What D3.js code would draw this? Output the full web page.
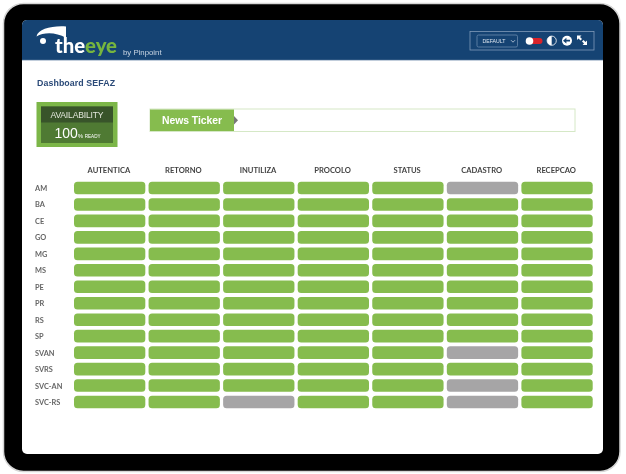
<!DOCTYPE html>
<meta charset="utf-8">
<style>
html, body { margin: 0; padding: 0; background: #fff; }
svg { display: block; filter: blur(0.4px); }
text { font-family: "Liberation Sans", Arial, sans-serif; }
.tick line, .domain { display: none; }
</style>
<body>
<script src="https://cdnjs.cloudflare.com/ajax/libs/d3/7.8.5/d3.min.js" charset="utf-8"></script>
<script>

var services = ["AUTENTICA", "RETORNO", "INUTILIZA", "PROCOLO", "STATUS", "CADASTRO", "RECEPCAO"];
var states = ["AM", "BA", "CE", "GO", "MG", "MS", "PE", "PR", "RS", "SP", "SVAN", "SVRS", "SVC-AN", "SVC-RS"];
// 1 = up (green), 0 = unavailable (grey). One row per state, one value per service
var AM = [1, 1, 1, 1, 1, 0, 1];
var BA = [1, 1, 1, 1, 1, 1, 1];
var CE = [1, 1, 1, 1, 1, 1, 1];
var GO = [1, 1, 1, 1, 1, 1, 1];
var MG = [1, 1, 1, 1, 1, 1, 1];
var MS = [1, 1, 1, 1, 1, 1, 1];
var PE = [1, 1, 1, 1, 1, 1, 1];
var PR = [1, 1, 1, 1, 1, 1, 1];
var RS = [1, 1, 1, 1, 1, 1, 1];
var SP = [1, 1, 1, 1, 1, 1, 1];
var SVAN = [1, 1, 1, 1, 1, 0, 1];
var SVRS = [1, 1, 1, 1, 1, 1, 1];
var SVC_AN = [1, 1, 1, 1, 1, 0, 1];
var SVC_RS = [1, 1, 0, 1, 1, 0, 1];
var statusRows = [AM, BA, CE, GO, MG, MS, PE, PR, RS, SP, SVAN, SVRS, SVC_AN, SVC_RS];

var w = 626;
var h = 474;
var green = "#86bc4e";
var grey = "#a6a5a6";
var navy = "#154373";

var svg = d3.select("body").append("svg")
	.attr("width", w)
	.attr("height", h);

// device frame
svg.append("rect").attr("x", 3.5).attr("y", 3.5).attr("width", 616.5).attr("height", 468)
	.attr("rx", 20).attr("fill", "#000").attr("stroke", "#d6d6d6").attr("stroke-width", 1.5);
svg.append("rect").attr("x", 22).attr("y", 20).attr("width", 581).attr("height", 434)
	.attr("rx", 5).attr("fill", "#fff");

// header
svg.append("path")
	.attr("d", "M22,60V25a5,5 0 0 1 5,-5H598a5,5 0 0 1 5,5V60Z")
	.attr("fill", navy);
svg.append("line").attr("x1", 22).attr("x2", 603).attr("y1", 60.3).attr("y2", 60.3)
	.attr("stroke", "#9db0c6").attr("stroke-width", 0.8);

// logo
svg.append("path")
	.attr("d", "M36.5,36.5C38,29 52,25.5 66,26.5L66,38C56,32 44,32 36.5,36.5Z")
	.attr("fill", "#fff");
svg.append("circle").attr("cx", 43).attr("cy", 41).attr("r", 3).attr("fill", "#fff");
var logo = svg.append("text").attr("x", 55).attr("y", 53)
	.attr("font-size", 21).attr("font-weight", 900).attr("textLength", 62)
	.attr("lengthAdjust", "spacingAndGlyphs").style("font-family", "Lato, sans-serif");
logo.append("tspan").attr("fill", "#fff").text("the");
logo.append("tspan").attr("fill", "#76b53f").text("eye");
svg.append("text").attr("x", 123).attr("y", 54.5).attr("font-size", 7.8)
	.attr("fill", "#c9d5e2").text("by Pinpoint");

// header controls
svg.append("rect").attr("x", 470).attr("y", 31.5).attr("width", 124).attr("height", 18.5)
	.attr("fill", "none").attr("stroke", "#7f9ab8").attr("stroke-width", 0.8);
svg.append("rect").attr("x", 477).attr("y", 35).attr("width", 40.5).attr("height", 12).attr("rx", 1.5)
	.attr("fill", "none").attr("stroke", "#6a8aad").attr("stroke-width", 0.8);
svg.append("text").attr("x", 482.5).attr("y", 43).attr("font-size", 5.2)
	.attr("fill", "#dfe7f0").text("DEFAULT");
svg.append("path").attr("d", "M511,40.2l2,2l2,-2").attr("fill", "none")
	.attr("stroke", "#dfe7f0").attr("stroke-width", 0.7);
svg.append("rect").attr("x", 526).attr("y", 38).attr("width", 16.5).attr("height", 6).attr("rx", 3)
	.attr("fill", "#d8232a");
svg.append("circle").attr("cx", 529.5).attr("cy", 41).attr("r", 3.8).attr("fill", "#fff");
svg.append("circle").attr("cx", 551.7).attr("cy", 40.7).attr("r", 4.6)
	.attr("fill", navy).attr("stroke", "#fff").attr("stroke-width", 0.8);
svg.append("path").attr("d", "M551.7,36.1a4.6,4.6 0 0 0 0,9.2Z").attr("fill", "#fff");
svg.append("circle").attr("cx", 567).attr("cy", 40.7).attr("r", 5).attr("fill", "#fff");
svg.append("path").attr("d", "M570,39.8H566.4V37.8L563,40.7L566.4,43.6V41.6H570Z").attr("fill", navy);
svg.append("path")
	.attr("d", "M577,35.5H581.5L580,37L582,39L580.5,40.5L578.5,38.5L577,40Z M587,45V40.5L585.5,42L583.5,40L582,41.5L584,43.5L582.5,45Z")
	.attr("fill", "#fff");

// title
svg.append("text").attr("x", 37).attr("y", 85.5).attr("font-size", 8.8).attr("font-weight", 700)
	.attr("fill", "#2b4a78").attr("textLength", 78).text("Dashboard SEFAZ");

// availability box
svg.append("rect").attr("x", 36.5).attr("y", 102).attr("width", 81).attr("height", 45).attr("fill", "#7cb648");
svg.append("rect").attr("x", 41).attr("y", 106.5).attr("width", 72).attr("height", 36.5).attr("fill", "#4f7a33");
svg.append("rect").attr("x", 41).attr("y", 106.5).attr("width", 72).attr("height", 16).attr("fill", "#38542a");
svg.append("text").attr("x", 77).attr("y", 118).attr("text-anchor", "middle").attr("font-size", 8.6)
	.attr("fill", "#e3e8dd").attr("textLength", 53).text("AVAILABILITY");
var avail = svg.append("text").attr("x", 54.5).attr("y", 137.5).attr("fill", "#fff");
avail.append("tspan").attr("font-size", 14).text("100");
avail.append("tspan").attr("font-size", 6).text("%");
avail.append("tspan").attr("font-size", 4.6).attr("dx", 1.5).text("READY");

// news ticker
svg.append("rect").attr("x", 150).attr("y", 109).attr("width", 425).attr("height", 22.5)
	.attr("fill", "#fff").attr("stroke", "#d5e8c6").attr("stroke-width", 1);
svg.append("rect").attr("x", 150).attr("y", 109.5).attr("width", 84).attr("height", 21.5).attr("fill", green);
svg.append("path").attr("d", "M234,116L238,120.2L234,124.5Z").attr("fill", "#777");
svg.append("text").attr("x", 162).attr("y", 124).attr("font-size", 10.4).attr("font-weight", 700)
	.attr("fill", "#fff").attr("textLength", 60).text("News Ticker");

// status grid
var x = d3.scaleBand().domain(services).range([74, 592.7]).paddingInner(0.0436);
var y = d3.scaleBand().domain(states).range([181.7, 408.3]).paddingInner(0.2345);

var topAxis = svg.append("g")
	.attr("transform", "translate(-0.8,173)")
	.call(d3.axisTop(x).tickSize(0).tickPadding(0));
topAxis.selectAll("text").attr("font-size", 7.6).attr("fill", "#444")
	.style("font-family", "Lato, sans-serif").style("font-weight", 700);

var leftAxis = svg.append("g")
	.attr("transform", "translate(35,0.6)")
	.call(d3.axisLeft(y).tickSize(0).tickPadding(0));
leftAxis.selectAll("text").attr("text-anchor", "start").attr("font-size", 7.4)
	.attr("fill", "#666").style("font-family", "Lato, sans-serif").style("font-weight", 700);

var cells = [];
states.forEach(function(s, i) {
	services.forEach(function(c, j) {
		cells.push({state: s, service: c, up: statusRows[i][j]});
	});
});

svg.selectAll("rect.cell")
	.data(cells)
	.enter()
	.append("rect")
	.attr("class", "cell")
	.attr("x", function(d) { return x(d.service); })
	.attr("y", function(d) { return y(d.state); })
	.attr("width", x.bandwidth())
	.attr("height", y.bandwidth())
	.attr("rx", 3.5)
	.attr("fill", function(d) { return d.up ? green : grey; });

</script>
</body>
